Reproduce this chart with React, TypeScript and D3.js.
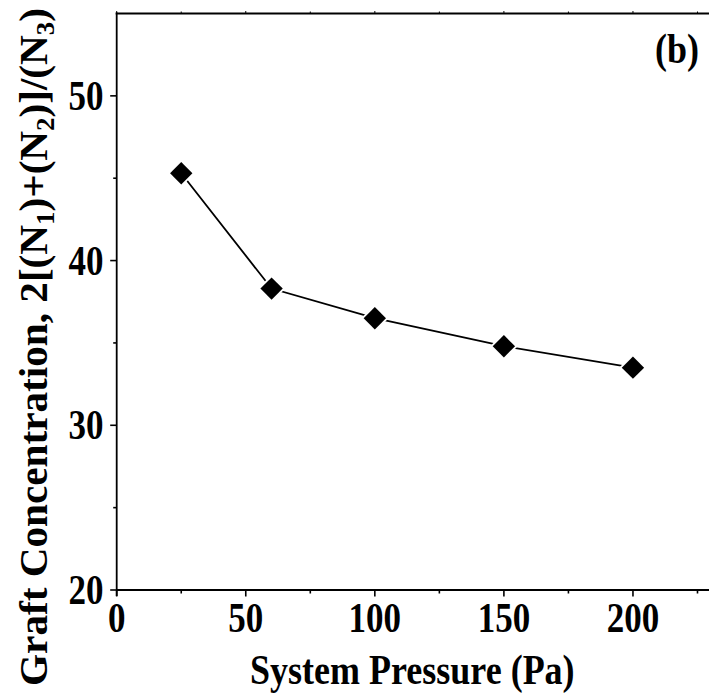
import React from "react";
import * as d3 from "d3";

const pressure = [25, 60, 100, 150, 200];
const concentration = [45.3, 38.3, 36.5, 34.8, 33.5];
const xTicks = [0, 50, 100, 150, 200];
const xMinor = [25, 75, 125, 175, 225];
const yTicks = [20, 30, 40, 50];
const yMinor = [25, 35, 45];

const W = 709;
const H = 694;
const FONT = "'Liberation Serif', 'Times New Roman', serif";
const SY = 1.2;

export default function App() {
  const x = d3.scaleLinear().domain([0, 230]).range([116.7, 710.4]);
  const y = d3.scaleLinear().domain([20, 55]).range([590, 13.5]);
  const pts = pressure.map((p, i) => [x(p), y(concentration[i])] as [number, number]);
  const line = d3.line()(pts) || "";
  const big = d3.symbol(d3.symbolSquare, 380)() || "";
  const mark = d3.symbol(d3.symbolSquare, 250)() || "";
  const x0 = x(0);
  const yb = y(20);
  const yt = y(55);

  return (
    <svg width={W} height={H} style={{ position: "absolute", left: 0, top: 0, background: "#fff" }} fontFamily={FONT} fontWeight="bold">
      <rect width={W} height={H} fill="#fff" />
      {/* axes */}
      <line x1={x0} x2={W} y1={yb} y2={yb} stroke="#000" strokeWidth={1.8} />
      <line x1={x0 - 1} x2={W} y1={yt} y2={yt} stroke="#000" strokeWidth={1.8} />
      <line x1={x0} x2={x0} y1={yt - 1} y2={yb + 6} stroke="#000" strokeWidth={1.8} />
      {xTicks.map((t) => (
        <g key={"xt" + t}>
          <line x1={x(t)} x2={x(t)} y1={yb} y2={yb + 6.5} stroke="#000" strokeWidth={1.6} />
          <line x1={x(t)} x2={x(t)} y1={yt} y2={yt - 2.5} stroke="#000" strokeWidth={1} />
          <text transform={`translate(${x(t)},632) scale(1,${SY})`} textAnchor="middle" fontSize={35}>{t}</text>
        </g>
      ))}
      {xMinor.map((t) => (
        <g key={"xm" + t}>
          <line x1={x(t)} x2={x(t)} y1={yb} y2={yb + 3.5} stroke="#000" strokeWidth={1.6} />
          <line x1={x(t)} x2={x(t)} y1={yt} y2={yt - 2} stroke="#000" strokeWidth={1} />
        </g>
      ))}
      {yTicks.map((t) => (
        <g key={"yt" + t}>
          <line x1={x0} x2={x0 - 6.5} y1={y(t)} y2={y(t)} stroke="#000" strokeWidth={1.6} />
          <text transform={`translate(103.5,${y(t) + 14}) scale(1,${SY})`} textAnchor="end" fontSize={35}>{t}</text>
        </g>
      ))}
      {yMinor.map((t) => (
        <line key={"ym" + t} x1={x0} x2={x0 - 3.5} y1={y(t)} y2={y(t)} stroke="#000" strokeWidth={1.6} />
      ))}
      {/* data */}
      <path d={line} fill="none" stroke="#000" strokeWidth={1.8} />
      {pts.map((p, i) => (
        <g key={"m" + i} transform={`translate(${p[0]},${p[1]}) rotate(45)`}>
          <path d={big} fill="#fff" />
          <path d={mark} fill="#000" />
        </g>
      ))}
      {/* labels */}
      <text transform={`translate(699,63) scale(1,${SY})`} textAnchor="end" fontSize={36}>(b)</text>
      <text transform={`translate(${(x0 + 709) / 2 - 0.5},684) scale(1,${SY})`} textAnchor="middle" fontSize={36}>System Pressure (Pa)</text>
      <text transform="translate(47,347) scale(1,1.03) rotate(-90)" textAnchor="middle" fontSize={40}>
        Graft Concentration, 2[(N<tspan fontSize={26} dy={7}>1</tspan><tspan dy={-7}>)+(N</tspan><tspan fontSize={26} dy={7}>2</tspan><tspan dy={-7}>)]/(N</tspan><tspan fontSize={26} dy={7}>3</tspan><tspan dy={-7}>)</tspan>
      </text>
    </svg>
  );
}
